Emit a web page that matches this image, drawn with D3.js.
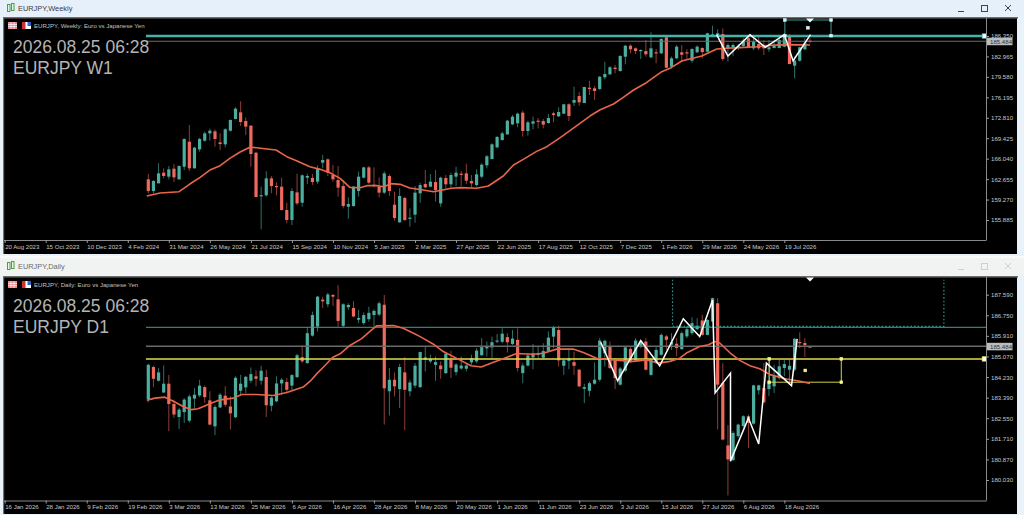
<!DOCTYPE html>
<html><head><meta charset="utf-8">
<script src="https://cdn.jsdelivr.net/npm/d3@7/dist/d3.min.js"></script>
<style>html,body{margin:0;padding:0;background:#e9f1f9;overflow:hidden}svg{display:block}</style>
</head><body><svg id="c" width="1024" height="515"></svg>
<script>
const weeklyOpen=[162.62,160.68,161.95,163.72,163.06,164.38,162.62,164.71,168.85,164.44,167.58,169.02,170.23,170.56,168.74,168.41,170.67,172.61,173.71,172.28,171.5,167.03,159.91,159.97,162.78,161.51,161.4,157.54,155.88,160.46,158.75,162.89,162.84,162.23,165.38,165.93,163.33,162.51,161.51,158.09,158.2,160.68,162.89,164.6,161.73,161.4,160.41,163.17,158.42,155.5,159.53,156.16,156.77,160.3,161.84,161.4,162.17,158.64,162.84,161.79,163.06,163.55,163.61,162.34,161.68,163.06,164.93,165.98,167.92,169.13,170.07,171.72,171.89,173.66,170.62,171.83,172.33,172.28,171.94,173.55,173.05,173.49,175.04,175.3,176.41,175.25,177.79,177.69,177.57,179.51,180.01,181.1,180.55,182.92,184.74,184.31,183.91,183.86,182.82,183.65,183.48,186.13,181.27,182.66,183.65,183.65,182.26,183.65,184.36,183.75,186.51,186.23,186.68,184.31,184.48,184.41,184.69,185.97,184.31,185.02,184.58,184.15,184.36,184.36,184.58,186.51,181.43,182.26,184.15,185.57];
const weeklyClose=[160.68,162.34,163.61,163.17,164.27,162.95,164.82,169.3,164.44,167.86,169.3,170.23,170.67,169.3,168.47,170.9,172.44,174.32,172.11,171.34,166.81,159.69,160.0,162.78,161.51,161.4,157.54,155.88,160.68,158.64,163.28,163.17,162.17,164.44,165.82,163.72,162.62,161.24,158.2,158.53,161.4,163.06,164.6,162.06,161.51,160.41,163.61,160.68,156.21,159.86,155.88,156.27,160.41,161.68,161.29,162.23,160.85,162.89,161.79,163.33,163.72,163.44,162.4,161.95,163.44,165.05,166.43,168.41,169.63,170.23,172.33,172.99,173.49,170.62,172.06,172.22,172.17,171.67,172.77,173.27,173.77,175.04,173.1,175.75,175.37,177.9,177.57,177.24,179.61,180.06,181.17,180.88,183.04,184.74,184.15,183.86,184.03,183.32,184.31,183.48,185.85,181.1,182.66,184.58,183.25,183.53,184.2,184.58,183.7,186.8,186.63,186.8,182.54,184.86,184.86,184.69,185.57,184.48,185.41,184.31,184.31,184.48,184.86,185.69,186.51,181.71,182.26,184.48,185.14,185.36];
const weeklyHigh=[163.5,162.51,165.27,164.44,164.82,165.16,164.93,169.41,171.61,168.0,169.52,170.51,171.01,170.9,170.23,171.06,172.55,174.54,175.53,172.88,171.61,167.2,161.4,163.96,163.17,162.12,162.89,158.75,161.13,163.55,163.44,163.55,163.5,164.93,166.65,166.09,164.99,164.82,162.51,159.64,161.51,163.89,164.71,164.82,164.6,162.95,163.96,163.44,160.57,161.13,159.75,157.81,161.51,162.06,164.16,163.5,164.16,163.06,163.33,163.72,164.71,163.99,165.21,163.33,164.27,165.27,166.65,168.58,169.79,170.51,172.44,173.27,173.66,173.99,172.33,172.99,172.77,172.61,173.44,173.82,174.54,175.09,175.2,177.95,177.1,177.95,178.95,178.07,179.72,182.09,181.38,181.55,183.2,184.86,184.97,184.48,184.15,185.69,186.96,184.2,185.97,186.23,182.92,184.86,184.86,184.15,184.31,184.81,184.48,186.9,188.05,187.46,187.62,185.14,185.14,185.02,185.97,186.51,185.97,186.51,185.69,185.69,185.69,186.23,186.8,186.68,182.92,184.58,185.97,185.97];
const weeklyLow=[160.3,160.3,161.95,162.78,162.62,162.17,162.51,164.16,164.0,164.44,167.2,168.85,169.02,168.03,167.47,167.92,170.51,172.55,171.45,169.96,164.71,159.64,154.34,159.75,160.3,159.97,157.43,155.33,155.05,158.37,158.09,161.84,161.68,161.84,164.44,163.17,162.23,159.75,157.81,156.1,158.09,159.75,162.78,161.84,161.29,159.64,160.19,159.86,155.77,155.44,155.72,154.78,155.44,158.75,161.18,161.29,158.92,158.09,161.13,161.13,161.51,161.51,161.84,161.24,161.4,162.78,164.44,165.93,167.75,169.02,169.96,171.61,171.23,169.68,169.85,170.9,171.06,171.06,171.83,172.06,172.94,173.44,172.28,174.76,174.81,175.25,176.58,175.75,177.41,179.18,179.89,180.17,180.44,181.66,183.48,183.37,182.54,182.92,182.66,181.83,183.37,181.0,181.0,182.49,182.09,182.49,181.93,183.53,182.66,183.65,186.23,186.13,182.21,182.09,183.04,184.03,184.58,184.31,184.03,184.03,183.2,183.75,184.31,184.31,184.48,181.66,179.34,182.09,184.03,185.14];
const weeklyMaBar=[-0.3,2.3,6,8.1,10.1,12,14,15.9,17.9,19.8,21.1,23.1,24.9,27,28.9,31.5,33.5,35.4,37.4,39.3,41.3,42.6,44.5,45.8,47.4,49.1,51,53.6,55.6,59.1,60.8,64,66.3,69.2,71.2,73.1,75.7,77.7,80.3,82.2,86.1,88,90.7,92.6,94.6,97.1,100.1,101.7,104,107.9,110.8,112.7,115.3,118.6,121.2,125.1,129];
const weeklyMa=[159.86,160.35,160.57,161.84,162.95,164.16,164.88,166.09,167.14,167.92,167.86,167.64,167.47,166.37,165.71,164.71,164.27,163.72,162.78,161.29,161.24,161.57,161.57,161.4,161.9,161.79,161.18,160.85,160.57,161.13,161.24,161.13,161.51,163.17,164.99,165.93,167.25,168.03,169.52,170.67,173.1,174.1,175.09,176.2,177.41,178.62,180.44,181.0,182.21,183.04,184.2,184.31,184.42,184.58,184.8,184.92,184.86];
const weeklyZigBar=[110.8,113,117.3,120.3,124,125.7,129.1];
const weeklyZig=[186.57,183.04,186.57,184.48,186.57,182.26,186.57];
const weeklyTicks=["20 Aug 2023","15 Oct 2023","10 Dec 2023","4 Feb 2024","31 Mar 2024","26 May 2024","21 Jul 2024","15 Sep 2024","10 Nov 2024","5 Jan 2025","2 Mar 2025","27 Apr 2025","22 Jun 2025","17 Aug 2025","12 Oct 2025","7 Dec 2025","1 Feb 2026","29 Mar 2026","24 May 2026","19 Jul 2026"];
const weeklyPrices=[186.35,182.965,179.58,176.195,172.81,169.425,166.04,162.655,159.27,155.885];

const dailyOpen=[183.33,184.64,184.08,183.6,183.96,183.13,182.6,182.8,182.45,183.35,183.48,183.82,183.28,182.22,182.99,183.47,183.03,182.59,183.67,183.81,184.08,184.26,184.08,184.23,183.06,183.24,183.97,184.03,183.88,184.23,185.04,184.8,185.92,186.29,187.39,187.2,187.58,187.4,186.32,187.08,187.05,186.57,186.43,186.59,186.76,186.78,187.18,183.65,184.12,183.74,184.42,183.65,183.88,183.82,184.93,184.87,184.73,184.7,184.39,184.93,184.43,184.58,184.57,184.83,184.87,185.12,185.4,185.44,185.68,185.67,185.86,185.58,185.75,184.39,184.7,185.03,185.14,185.02,185.3,185.88,186.15,184.69,184.89,184.84,184.53,183.75,183.67,183.96,184.12,185.2,185.5,184.89,183.92,184.49,185.38,184.91,185.48,185.68,184.32,184.8,185.14,185.89,185.55,185.59,185.37,185.89,186.02,186.18,186.54,185.95,186.5,187.24,183.99,181.44,180.84,181.82,182.23,182.63,182.33,183.69,183.78,183.74,183.85,184.19,184.6,184.53,184.53,185.66,185.62,185.43];
const dailyClose=[184.73,184.16,184.42,183.96,183.13,182.7,182.9,183.31,183.44,183.51,183.88,183.41,182.29,183.01,183.51,183.1,182.75,184.2,183.96,184.24,184.35,184.16,184.49,183.08,183.39,183.97,184.12,183.71,184.31,185.12,184.87,186.02,186.76,187.51,187.32,187.6,187.51,186.52,187.2,187.17,186.7,186.64,186.76,186.85,186.93,187.24,183.77,184.12,183.85,184.64,183.71,184.01,184.69,185.25,185.03,184.97,184.84,184.55,185.18,184.61,184.74,184.7,184.7,185.0,185.31,185.45,185.5,185.65,185.72,186.0,185.65,185.8,184.6,184.7,185.11,185.2,185.19,185.29,185.84,186.26,184.91,184.91,185.0,184.69,183.85,183.82,183.98,184.12,185.72,185.71,184.6,184.19,184.58,185.44,184.83,185.72,185.68,184.53,184.96,185.34,185.95,185.75,185.66,185.41,186.02,186.18,186.43,186.32,185.95,186.56,187.45,183.92,181.68,180.87,181.95,182.29,182.63,182.36,183.89,183.89,183.2,184.06,184.29,184.67,184.76,184.69,185.79,185.62,185.53,185.49];
const dailyHigh=[184.77,184.69,184.6,184.7,184.32,183.31,182.97,183.37,183.51,183.78,184.12,183.88,183.65,183.1,183.58,183.85,183.44,184.26,184.32,184.28,184.62,184.5,184.69,184.53,183.44,184.26,184.19,184.19,184.35,185.18,185.54,186.25,186.9,187.54,187.51,187.67,187.62,187.98,187.24,187.24,187.33,186.97,186.87,187.1,186.99,187.31,187.58,184.6,184.42,184.77,185.04,184.12,184.8,185.27,185.48,185.14,185.07,184.87,185.23,185.3,184.8,185.07,184.8,185.14,185.41,185.82,185.68,185.88,185.99,186.22,186.02,186.15,186.22,184.8,185.2,185.58,185.48,185.61,186.09,186.32,186.32,185.0,185.37,185.27,184.55,183.96,184.05,184.83,185.82,185.75,185.68,185.0,184.64,185.48,185.45,185.82,185.75,185.82,185.0,185.45,186.02,185.95,186.02,185.82,186.09,186.29,186.67,186.63,186.77,186.59,187.47,187.45,184.8,182.27,182.02,182.33,182.67,182.7,183.92,183.92,184.8,184.94,184.73,184.94,184.94,184.94,185.82,186.05,185.82,185.51];
const dailyLow=[183.2,183.82,184.05,183.58,182.02,182.56,182.11,182.36,182.38,182.97,183.41,183.17,182.26,181.86,182.97,183.01,182.09,182.56,183.51,183.58,183.98,183.85,183.92,182.6,182.83,183.2,183.51,183.58,183.69,184.19,184.8,184.77,185.88,186.09,187.04,187.08,187.13,186.29,186.26,186.97,186.67,186.43,186.36,186.49,186.29,186.72,182.29,182.66,183.44,182.97,182.06,183.44,183.78,183.78,184.46,184.8,184.08,184.16,184.36,184.19,184.3,184.53,184.46,184.73,184.8,185.1,185.07,185.0,185.61,185.61,185.23,185.54,184.46,183.98,184.66,184.55,184.96,184.96,185.27,185.41,184.66,184.32,184.55,184.32,183.82,183.17,183.44,183.92,184.05,184.66,184.55,183.74,183.88,184.43,184.8,184.87,185.41,184.5,184.28,184.76,185.1,185.34,185.34,185.07,185.34,185.82,185.95,186.16,185.91,185.93,186.47,182.09,181.64,179.4,180.8,181.75,182.16,181.34,182.29,183.51,183.15,183.45,183.58,184.12,184.26,183.92,184.46,185.41,185.05,185.41];
const dailyMaBar=[-0.3,1.3,3.2,4.9,6.8,8.4,9.7,12,14,16.6,18.2,21.1,24.4,27,30.2,31.5,33.1,34.4,35.9,37.4,39.3,41.6,43.2,44.5,47.8,49.7,51.7,53,55.6,57.5,60.7,62.9,64.9,67.3,69.8,71.8,75,77,79.6,82.8,84.8,87.4,90.6,94.5,97.2,99.4,101.7,103.6,104.9,107.5,109.2,110.5,111.4,113.4,115.3,117.3,119.2,121.2,124.4,127.1,129];
const dailyMa=[183.28,183.37,183.41,183.24,183.03,182.9,182.94,183.14,183.3,183.37,183.52,183.52,183.48,183.6,183.82,184.05,184.42,184.69,185.03,185.18,185.52,185.8,186.09,186.32,186.33,186.22,186.02,185.88,185.57,185.27,184.93,184.69,184.64,184.83,185.03,185.19,185.16,185.2,185.37,185.37,185.23,185.0,184.93,184.87,184.93,184.8,184.87,185.0,185.21,185.48,185.55,185.68,185.62,185.22,184.91,184.69,184.57,184.33,184.15,184.06,183.97];
const dailyZigBar=[88.2,91.5,96,99.7,104.3,107.5,110,110.5,113.5,113.5,117,119,120.5,125.4,126.5];
const dailyZig=[185.65,184.08,185.72,184.69,186.61,185.88,187.37,183.58,184.39,180.8,182.56,181.5,184.8,183.88,185.79];
const dailyTicks=["16 Jan 2026","28 Jan 2026","9 Feb 2026","19 Feb 2026","3 Mar 2026","13 Mar 2026","25 Mar 2026","6 Apr 2026","16 Apr 2026","28 Apr 2026","8 May 2026","20 May 2026","1 Jun 2026","11 Jun 2026","23 Jun 2026","3 Jul 2026","15 Jul 2026","27 Jul 2026","6 Aug 2026","18 Aug 2026"];
const dailyPrices=[187.59,186.75,185.91,185.07,184.23,183.39,182.55,181.71,180.87,180.03];

const lastPrice=185.484;
const weeklyLevel=186.35, weeklyBox=[[124.1,133.1],[186.4,189.0]], weeklyBoxMid=[128.6,187.7];
const dailyCyan=186.26, dailyYellow=184.97, dailyYellowBox=[[121.05,135.1],[184.02,184.97]], dailyYellowMid=[128.07,184.5];
const dailyDotBox=[[102.2,155.1],[186.3,188.2]];

const svg=d3.select("#c");
const FONT="Liberation Sans";
const TEAL="#4cae9f",RED="#ee6a5c",TW="#2f7169",RW="#8c3f38",MA="#e8664a",AX="#c8c8c8";

function chrome(y0,h,bar,txt,btn,label){
  svg.append("rect").attr("x",0).attr("y",y0).attr("width",1024).attr("height",h).attr("fill",bar);
  const ic=svg.append("g").attr("fill","none").attr("stroke","#49a23c").attr("stroke-width",1);
  ic.append("rect").attr("x",7.5).attr("y",y0+4.5).attr("width",2.5).attr("height",7);
  ic.append("rect").attr("x",11.5).attr("y",y0+3.5).attr("width",2.5).attr("height",7);
  svg.append("text").attr("x",18).attr("y",y0+11).attr("font-family",FONT).attr("font-size",7.4).attr("fill",txt).text(label);
  const b=svg.append("g").attr("fill","none").attr("stroke",btn).attr("stroke-width",1);
  b.append("path").attr("d",`M958 ${y0+11.5}H964`);
  b.append("rect").attr("x",981.5).attr("y",y0+5.5).attr("width",6).attr("height",6);
  b.append("path").attr("d",`M1005 ${y0+5}l6 6m0 -6l-6 6`);
}

function panel(o){
  const x=d3.scaleLinear().domain([0,129]).range([148.3,810]);
  const y=d3.scaleLinear().domain(o.yDom).range(o.yRange);
  const g=svg.append("g");
  g.append("rect").attr("x",4).attr("y",o.top).attr("width",1013).attr("height",o.bottom-o.top).attr("fill","#000");
  g.append("rect").attr("x",3).attr("y",o.top-1).attr("width",1015).attr("height",1.5).attr("fill","#6e6e6e");
  g.append("rect").attr("x",3).attr("y",o.top-1).attr("width",1.2).attr("height",o.bottom-o.top+1).attr("fill","#6e6e6e");
  const idx=d3.range(o.open.length);
  g.append("g").selectAll("line").data(idx).join("line")
    .attr("x1",i=>x(i)).attr("x2",i=>x(i))
    .attr("y1",i=>y(o.high[i])).attr("y2",i=>y(o.low[i]))
    .attr("stroke",i=>o.close[i]>=o.open[i]?TW:RW).attr("stroke-width",1);
  g.append("g").selectAll("rect").data(idx).join("rect")
    .attr("x",i=>x(i)-1.6).attr("width",3.2)
    .attr("y",i=>y(Math.max(o.open[i],o.close[i])))
    .attr("height",i=>Math.max(1.2,Math.abs(y(o.open[i])-y(o.close[i]))))
    .attr("fill",i=>o.close[i]>=o.open[i]?TEAL:RED);
  o.overlay(g,x,y);
  const ln=d3.line().x(d=>x(d[0])).y(d=>y(d[1]));
  g.append("path").attr("d",ln(d3.zip(o.maBar,o.ma))).attr("fill","none").attr("stroke",MA).attr("stroke-width",1.6).attr("stroke-linejoin","round");
  g.append("path").attr("d",ln(d3.zip(o.zigBar,o.zig))).attr("fill","none").attr("stroke","#fff").attr("stroke-width",1.5).attr("stroke-linejoin","miter");
  o.after(g,x,y);
  const tx=x(129);
  g.append("path").attr("d",`M${tx-4} ${o.top+.5}h8l-4 4z`).attr("fill","#fff");
  const xTickBars=o.ticks.map((_,k)=>-28+8*k);
  const ax=d3.axisBottom(x).tickValues(xTickBars).tickSize(3).tickPadding(1.5).tickFormat((_,k)=>o.ticks[k]);
  const xg=g.append("g").attr("transform",`translate(0,${o.axisY})`).call(ax);
  xg.select(".domain").attr("d",`M4 0.5H986.5`).attr("stroke","#8a8a8a");
  xg.selectAll("line").attr("stroke","#9a9a9a");
  xg.selectAll("text").attr("text-anchor","start").attr("dx",0).attr("fill",AX).attr("font-size",6.1).attr("font-family",FONT);
  const ay=d3.axisRight(y).tickValues(o.prices).tickSize(3).tickPadding(2).tickFormat(d3.format(".3f"));
  const yg=g.append("g").attr("transform","translate(986,0)").call(ay);
  yg.select(".domain").attr("d",`M0.5 ${o.top}V${o.axisY}`).attr("stroke","#8a8a8a");
  yg.selectAll("line").attr("stroke","#9a9a9a");
  yg.selectAll("text").attr("fill",AX).attr("font-size",6.1).attr("font-family",FONT);
  const ly=y(lastPrice);
  g.append("rect").attr("x",987).attr("y",ly-3.5).attr("width",25.5).attr("height",7.5).attr("fill","#bdbdbd");
  g.append("text").attr("x",990).attr("y",ly+2.6).attr("font-family",FONT).attr("font-size",6.1).attr("fill","#333").text(d3.format(".3f")(lastPrice));
  g.append("rect").attr("x",8).attr("y",o.top+4).attr("width",9).attr("height",7).attr("fill","#e88");
  g.append("path").attr("d",`M8 ${o.top+6.5}h9M8 ${o.top+8.5}h9M11 ${o.top+4}v7M14 ${o.top+4}v7`).attr("stroke","#eef").attr("stroke-width",.8);
  g.append("rect").attr("x",22).attr("y",o.top+4).attr("width",9).attr("height",7).attr("fill","#fff");
  g.append("path").attr("d",`M22 ${o.top+4}h3.5v7h-3.5z`).attr("fill","#c33");
  g.append("path").attr("d",`M27.5 ${o.top+4}h3.5v4h-3.5z`).attr("fill","#36c");
  g.append("text").attr("x",34).attr("y",o.top+10).attr("font-family",FONT).attr("font-size",6.1).attr("fill","#c0c0c0").text(o.header);
  g.append("text").attr("x",13).attr("y",o.top+35).attr("font-family",FONT).attr("font-size",17.5).attr("fill","#b4b4b4").text(o.stamp);
  g.append("text").attr("x",13).attr("y",o.top+56).attr("font-family",FONT).attr("font-size",17.5).attr("fill","#b4b4b4").text(o.tf);
}
function handles(g,pts,fill,stroke,s){
  g.append("g").selectAll("rect").data(pts).join("rect")
   .attr("x",d=>d[0]-s/2).attr("y",d=>d[1]-s/2).attr("width",s).attr("height",s)
   .attr("fill",fill).attr("stroke",stroke).attr("stroke-width",.7);
}
const barRight=163;

svg.append("rect").attr("width",1024).attr("height",515).attr("fill","#e9f1f9");
chrome(0,16,"#e6f0fa","#3a3a3a","#444","EURJPY,Weekly");
chrome(258,18,"#f1f3f3","#6a6a6a","#cfcfcf","EURJPY,Daily");
svg.append("rect").attr("x",0).attr("y",256).attr("width",1024).attr("height",2).attr("fill","#f8fafb");

panel({top:18,bottom:254,axisY:240,yDom:[186.35,155.885],yRange:[36,220],
  open:weeklyOpen,close:weeklyClose,high:weeklyHigh,low:weeklyLow,
  maBar:weeklyMaBar,ma:weeklyMa,zigBar:weeklyZigBar,zig:weeklyZig,ticks:weeklyTicks,prices:weeklyPrices,
  header:"EURJPY, Weekly:  Euro vs Japanese Yen",stamp:"2026.08.25 06:28",tf:"EURJPY W1",
  overlay(g,x,y){
    g.append("line").attr("x1",146).attr("x2",986).attr("y1",y(lastPrice)).attr("y2",y(lastPrice)).attr("stroke","#6e6e6e").attr("stroke-width",1.2);
    g.append("line").attr("x1",146).attr("x2",986).attr("y1",y(weeklyLevel)).attr("y2",y(weeklyLevel)).attr("stroke","#45b3aa").attr("stroke-width",2.5);
    const [bx,by]=weeklyBox;
    g.append("rect").attr("x",x(bx[0])).attr("y",y(by[1])).attr("width",x(bx[1])-x(bx[0])).attr("height",y(by[0])-y(by[1])).attr("fill","none").attr("stroke","#3c9b95").attr("stroke-width",1);
  },
  after(g,x,y){
    const [bx,by]=weeklyBox;
    handles(g,[[x(bx[0]),y(by[0])],[x(bx[1]),y(by[0])],[x(bx[0]),y(by[1])],[x(bx[1]),y(by[1])],[x(weeklyBoxMid[0]),y(weeklyBoxMid[1])]],"#d6f5f2","#d6f5f2",2.6);
    handles(g,[[x(barRight),y(weeklyLevel)]],"#fff","#45b3aa",4.5);
  }});

panel({top:277,bottom:514,axisY:500.5,yDom:[187.59,180.03],yRange:[294.7,480],
  open:dailyOpen,close:dailyClose,high:dailyHigh,low:dailyLow,
  maBar:dailyMaBar,ma:dailyMa,zigBar:dailyZigBar,zig:dailyZig,ticks:dailyTicks,prices:dailyPrices,
  header:"EURJPY, Daily:  Euro vs Japanese Yen",stamp:"2026.08.25 06:28",tf:"EURJPY D1",
  overlay(g,x,y){
    g.append("line").attr("x1",146).attr("x2",986).attr("y1",y(lastPrice)).attr("y2",y(lastPrice)).attr("stroke","#6a6a6a").attr("stroke-width",1.4);
    g.append("line").attr("x1",146).attr("x2",986).attr("y1",y(dailyCyan)).attr("y2",y(dailyCyan)).attr("stroke","#3f9e98").attr("stroke-width",1);
    g.append("line").attr("x1",146).attr("x2",986).attr("y1",y(dailyYellow)).attr("y2",y(dailyYellow)).attr("stroke","#dede4e").attr("stroke-width",1.5);
    const [dx,dy]=dailyDotBox;
    g.append("path").attr("d",`M${x(dx[0])} ${y(dy[1])}V${y(dy[0])}H${x(dx[1])}V${y(dy[1])}`).attr("fill","none").attr("stroke","#2f8f8a").attr("stroke-width",1.2).attr("stroke-dasharray","1.6 2");
    const [bx,by]=dailyYellowBox;
    g.append("path").attr("d",`M${x(bx[0])} ${y(by[1])}V${y(by[0])}H${x(bx[1])}V${y(by[1])}`).attr("fill","none").attr("stroke","#cfcf48").attr("stroke-width",1);
  },
  after(g,x,y){
    const [bx,by]=dailyYellowBox;
    handles(g,[[x(bx[0]),y(by[0])],[x(bx[1]),y(by[0])],[x(bx[0]),y(by[1])],[x(bx[1]),y(by[1])],[x(dailyYellowMid[0]),y(dailyYellowMid[1])]],"#f7f78a","#f7f78a",2.6);
    handles(g,[[x(barRight),y(dailyYellow)]],"#fff","#dede4e",4.5);
  }});
</script></body></html>
